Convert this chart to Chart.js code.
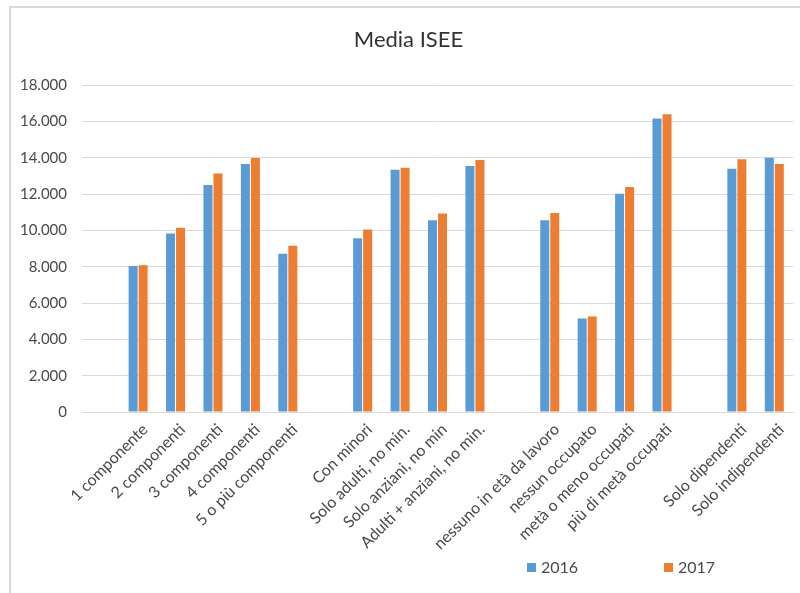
<!DOCTYPE html>
<html lang="it">
<head>
<meta charset="utf-8">
<title>Media ISEE</title>
<script src="https://cdn.jsdelivr.net/npm/chart.js@4.4.1/dist/chart.umd.min.js"></script>
<style>
    html, body { margin: 0; padding: 0; background: #ffffff; overflow: hidden; }
    #contenitore { position: relative; width: 800px; height: 593px; overflow: hidden; }
    #cornice { position: absolute; left: 9px; top: 6px; width: 900px; height: 700px; border: 2px solid #d9d9d9; }
    #graficaIsee { position: absolute; left: 0; top: 0; }
    .voceLegenda { position: absolute; top: 558px; font-family: Lato, sans-serif; font-size: 16px; color: #4a4a4a; line-height: 18px; }
    .voceLegenda span { display: inline-block; width: 9px; height: 9px; margin-right: 5px; vertical-align: 1px; }
</style>
</head>
<body>
<div id="contenitore">
    <div id="cornice"></div>
    <canvas id="graficaIsee" width="800" height="593"></canvas>
    <div class="voceLegenda" style="left: 527px;"><span style="background: #5b9bd5;"></span>2016</div>
    <div class="voceLegenda" style="left: 664px;"><span style="background: #ed7d31;"></span>2017</div>
</div>
<script>
var categorie = ["", "1 componente", "2 componenti", "3 componenti", "4 componenti", "5 o più componenti", "",
    "Con minori", "Solo adulti, no min.", "Solo anziani, no min", "Adulti + anziani, no min.", "",
    "nessuno in età da lavoro", "nessun occupato", "metà o meno occupati", "più di metà occupati", "",
    "Solo dipendenti", "Solo indipendenti"]

var valori2016 = [null, 8030, 9830, 12490, 13650, 8710, null, 9570, 13330, 10560, 13540, null, 10560, 5150, 12010, 16160, null, 13390, 14000]
var valori2017 = [null, 8080, 10140, 13130, 13980, 9150, null, 10050, 13440, 10930, 13870, null, 10960, 5260, 12380, 16390, null, 13910, 13650]

var etichetteSerie = ["2016", "2017"]
var coloriSerie = ["#5b9bd5", "#ed7d31"]

var asseMin = 0
var asseMax = 18000
var assePasso = 2000

function formattaMigliaia(valore) {
    return String(valore).replace(/\B(?=(\d{3})+(?!\d))/g, ".")
}

Chart.defaults.font.family = "Lato, sans-serif"
Chart.defaults.color = "#4a4a4a"

var ctx = document.getElementById("graficaIsee").getContext("2d")

new Chart(ctx, {
    type: "bar",
    data: {
        labels: categorie,
        datasets: [{
            label: etichetteSerie[0],
            data: valori2016,
            backgroundColor: coloriSerie[0]
        }, {
            label: etichetteSerie[1],
            data: valori2017,
            backgroundColor: coloriSerie[1]
        }]
    },
    options: {
        responsive: false,
        devicePixelRatio: 1,
        animation: false,
        categoryPercentage: 0.535,
        barPercentage: 0.9,
        layout: {
            padding: { left: 17, right: 0, top: 0, bottom: 0 }
        },
        plugins: {
            legend: { display: false },
            tooltip: { enabled: false },
            title: {
                display: true,
                text: "Media ISEE",
                color: "#333333",
                font: { size: 22, weight: "normal" },
                padding: { top: 27, bottom: 31.6 }
            }
        },
        scales: {
            x: {
                grid: { display: false, drawTicks: false },
                border: { display: true, color: "#d9d9d9", width: 1 },
                ticks: {
                    autoSkip: false,
                    minRotation: 45,
                    maxRotation: 45,
                    padding: 8,
                    labelOffset: 7,
                    font: { size: 16 }
                },
                afterFit: function (scala) {
                    scala.height = 181
                }
            },
            y: {
                min: asseMin,
                max: asseMax,
                grid: { color: "#d9d9d9", drawTicks: false },
                border: { display: false },
                ticks: {
                    stepSize: assePasso,
                    padding: 15,
                    font: { size: 15 },
                    callback: function (valore) {
                        return formattaMigliaia(valore)
                    }
                },
                afterFit: function (scala) {
                    scala.width = 65
                }
            },
            destra: {
                axis: "y",
                position: "right",
                grid: { display: false },
                border: { display: false },
                ticks: { display: false },
                afterFit: function (scala) {
                    scala.width = 7
                }
            }
        }
    }
});
</script>
</body>
</html>
